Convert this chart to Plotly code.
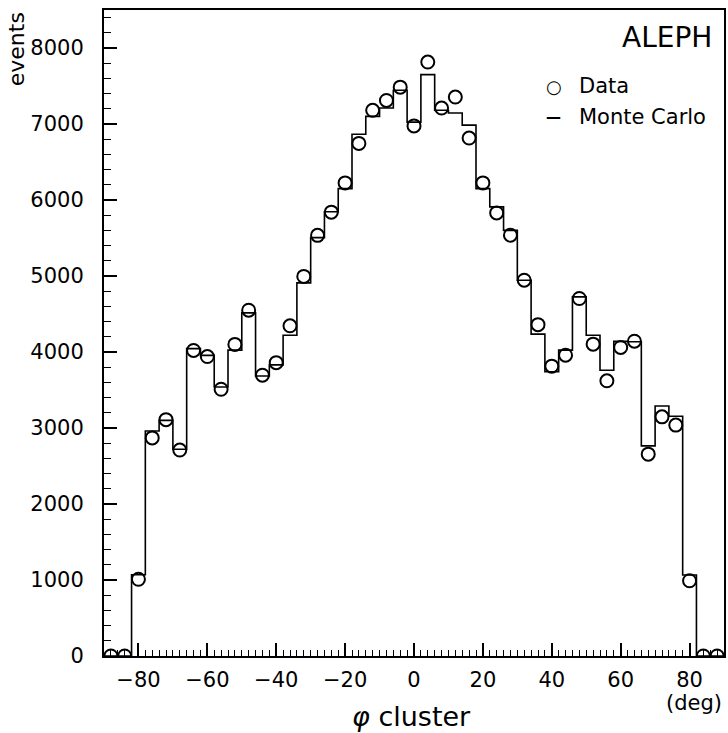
import plotly.graph_objects as go

# bin centres (deg), bin width 4 deg
bin_centers = [-88, -84, -80, -76, -72, -68, -64, -60, -56, -52, -48, -44, -40, -36, -32,
               -28, -24, -20, -16, -12, -8, -4, 0, 4, 8, 12, 16, 20, 24, 28, 32, 36, 40,
               44, 48, 52, 56, 60, 64, 68, 72, 76, 80, 84, 88]
bin_width = 4

data_counts = [0, 0, 1010, 2870, 3110, 2710, 4020, 3940, 3510, 4100, 4550, 3695, 3860, 4345, 4995,
               5535, 5840, 6225, 6745, 7180, 7310, 7485, 6975, 7815, 7210, 7355, 6815, 6225, 5830,
               5537, 4945, 4360, 3814, 3958, 4704, 4103, 3621, 4060, 4142, 2656, 3147, 3038, 990, 0, 0]

mc_counts = [0, 0, 1070, 2960, 3100, 2720, 4045, 3955, 3540, 4025, 4515, 3685, 3830, 4220, 4910,
             5505, 5845, 6150, 6865, 7100, 7210, 7445, 7025, 7650, 7180, 7145, 6985, 6150, 5910,
             5600, 4945, 4235, 3740, 4025, 4725, 4220, 3760, 4140, 4135, 2765, 3290, 3155, 1065, 0, 0]

x_tick_vals = [-80, -60, -40, -20, 0, 20, 40, 60, 80]
y_tick_vals = [0, 1000, 2000, 3000, 4000, 5000, 6000, 7000, 8000]

FONT = "DejaVu Sans"

# step-histogram outline from the bin edges
step_x = [c - bin_width / 2 for c in bin_centers] + [bin_centers[-1] + bin_width / 2]
step_y = mc_counts + [mc_counts[-1]]

fig = go.Figure()
fig.add_trace(go.Scatter(
    x=step_x, y=step_y, mode="lines", line=dict(shape="hv", color="black", width=1.6),
    name="Monte Carlo", showlegend=False, hoverinfo="skip"))
fig.add_trace(go.Scatter(
    x=bin_centers, y=data_counts, mode="markers",
    marker=dict(symbol="circle-open", size=13, color="black", line=dict(width=2)),
    name="Data", showlegend=False))

fig.update_layout(
    width=728, height=733,
    margin=dict(l=104, r=2, t=10, b=77),
    paper_bgcolor="white", plot_bgcolor="white",
    font=dict(family=FONT, size=21, color="black"),
    xaxis=dict(range=[-90, 90], tickvals=x_tick_vals, ticks="inside", ticklen=13, tickwidth=1.5,
               tickcolor="black", showline=True, linecolor="black", linewidth=2, mirror=True,
               showgrid=False, zeroline=False, ticklabelstandoff=4,
               minor=dict(dtick=2, ticks="inside", ticklen=6, tickcolor="black", tickwidth=1, showgrid=False),
               tickfont=dict(family=FONT, size=21, color="black")),
    yaxis=dict(range=[0, 8500], tickvals=y_tick_vals, ticks="inside", ticklen=13, tickwidth=1.5,
               tickcolor="black", showline=True, linecolor="black", linewidth=2, mirror=True,
               showgrid=False, zeroline=False, ticklabelstandoff=14,
               minor=dict(dtick=200, ticks="inside", ticklen=7, tickcolor="black", tickwidth=1, showgrid=False),
               tickfont=dict(family=FONT, size=21, color="black")),
)

annos = [
    dict(text="events", x=16, y=10, textangle=-90, xanchor="center", yanchor="top", size=22),
    dict(text="ALEPH", x=716, y=38, xanchor="right", yanchor="middle", size=28),
    dict(text="○", x=555, y=86, xanchor="center", yanchor="middle", size=18),
    dict(text="Data", x=579, y=86, xanchor="left", yanchor="middle", size=21),
    dict(text="<b>—</b>", x=555, y=117, xanchor="center", yanchor="middle", size=15),
    dict(text="Monte Carlo", x=579, y=117, xanchor="left", yanchor="middle", size=21),
    dict(text="(deg)", x=696, y=703, xanchor="center", yanchor="middle", size=21),
    dict(text="<i>φ</i> cluster", x=412, y=716, xanchor="center", yanchor="middle", size=27),
]

# pixel positions -> paper coordinates of the plot area
plot_l, plot_r, plot_t, plot_b = 104, 726, 10, 656
for a in annos:
    fig.add_annotation(
        text=a["text"], xref="paper", yref="paper",
        x=(a["x"] - plot_l) / (plot_r - plot_l),
        y=(plot_b - a["y"]) / (plot_b - plot_t),
        showarrow=False, xanchor=a["xanchor"], yanchor=a["yanchor"],
        textangle=a.get("textangle", 0),
        font=dict(family=FONT, size=a["size"], color="black"))

fig.write_html("out.html")
